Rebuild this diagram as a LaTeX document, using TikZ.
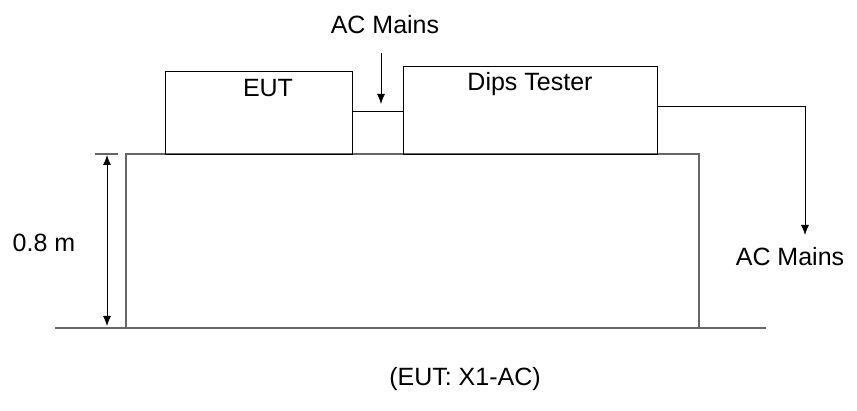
\documentclass[tikz,border=0pt]{standalone}
\usepackage{fontspec}
\setmainfont{Liberation Sans}
\usetikzlibrary{arrows.meta}
\begin{document}
\begin{tikzpicture}[x=1pt,y=-1pt,
  box/.style={draw=black,line width=0.9pt,minimum width=#1,inner sep=0pt},
  txt/.style={font=\fontsize{25}{29}\selectfont,inner sep=0pt},
  gline/.style={draw=black!60,line width=1.5pt},
  arr/.style={-{Latex[length=10pt,width=8pt]},line width=0.8pt},
  dim/.style={{Latex[length=10pt,width=8pt]}-{Latex[length=10pt,width=8pt]},line width=0.8pt}]
\useasboundingbox (0,0) rectangle (857,411);
% table
\node[minimum width=573pt,minimum height=173pt,inner sep=0pt] (table) at (412.5,240.5) {};
\draw[gline] (table.south west) -- (table.north west) -- (table.north east) -- (table.south east);
% floor
\coordinate (f1) at (55,328);
\coordinate (f2) at (766,328);
\draw[gline] (f1) -- (f2);
% boxes
\node[box=187pt,minimum height=83pt] (eut) at (258.5,112.5) {};
\node[txt,anchor=center] (eutl) at (268,88) {EUT};
\node[box=254pt,minimum height=88pt] (dips) at (530,110) {};
\node[txt] (dipsl) at (530,84) {Dips Tester};
% connection
\draw[line width=0.9pt] (eut.east |- 0,111) -- (dips.west |- 0,111);
% AC mains top
\node[txt] (acm1) at (385,25) {AC Mains};
\coordinate (a1) at (381,53);
\coordinate (a2) at (381,104);
\draw[arr] (a1) -- (a2);
% AC mains right
\node[txt] (acm2) at (790,257) {AC Mains};
\coordinate (r1) at (805,106);
\coordinate (r2) at (805,235);
\draw[arr] (dips.east |- r1) -- (r1) -- (r2);
% dimension
\coordinate (t1) at (95,154);
\coordinate (t2) at (118,154);
\draw[gline] (t1) -- (t2);
\coordinate (d1) at (107,155);
\coordinate (d2) at (107,326);
\draw[dim] (d1) -- (d2);
\node[txt] (h) at (44,243) {0.8 m};
% caption
\node[txt] (cap) at (465,379) {(EUT: X1-AC)};
\end{tikzpicture}
\end{document}
